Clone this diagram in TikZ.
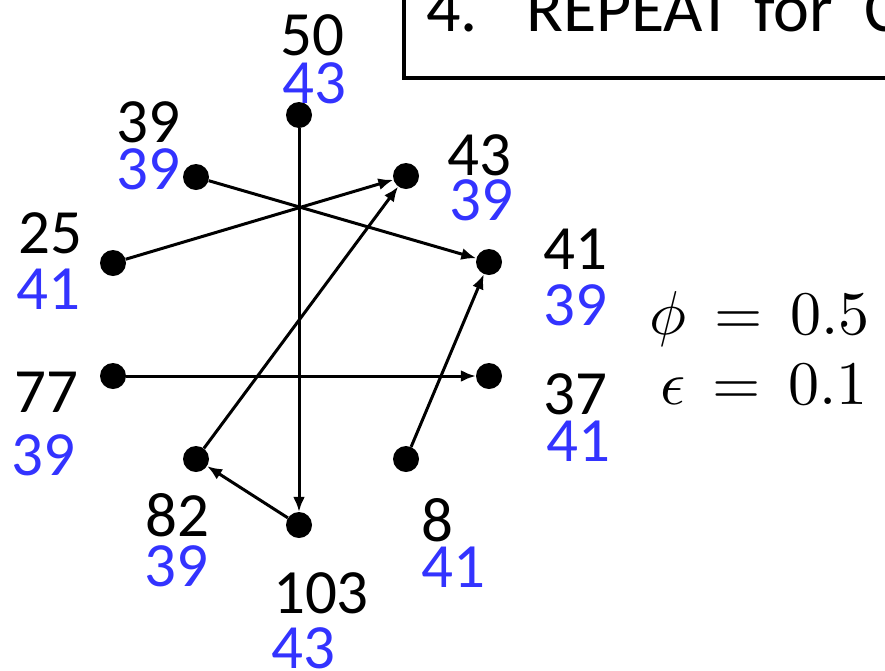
\documentclass[tikz,border=0pt]{standalone}
\usepackage{fontspec}
\usepackage{unicode-math}
\setmainfont{Carlito}
\setmathfont{latinmodern-math.otf}
\usepackage{tikz}
\usetikzlibrary{arrows.meta}

\definecolor{valblue}{RGB}{51,51,255}

\begin{document}
\begin{tikzpicture}[
    x=1pt, y=-1pt,
    font=\fontsize{63}{70}\selectfont,
    dot/.style={circle, fill=black, inner sep=0pt, minimum size=26pt},
    old/.style={inner sep=0pt, text=black},
    new/.style={inner sep=0pt, text=valblue},
    arrow/.style={-{Latex[length=15pt, width=12pt]}, line width=3pt},
    eq/.style={inner sep=0pt, anchor=base east, font=\fontsize{62}{68}\selectfont}
]
\useasboundingbox (0,0) rectangle (885,670);
\clip (0,0) rectangle (885,670);

% Step box (cut off at the top and right)
\draw[line width=3.5pt] (404,-40) rectangle (920,78);
\node[old, anchor=base west, font=\fontsize{68}{74}\selectfont] (stepnum) at (426,31) {4.};
\node[old, anchor=base west, font=\fontsize{68}{74}\selectfont] (steptxt) at (526,31) {REPEAT\hspace{8pt} for\hspace{16pt} C};

% Vertices
\node[dot] (n50)  at (299,115) {};
\node[dot] (n39)  at (196,177) {};
\node[dot] (n43)  at (406,176) {};
\node[dot] (n25)  at (113,263) {};
\node[dot] (n41)  at (489,262) {};
\node[dot] (n77)  at (113,376) {};
\node[dot] (n37)  at (489,376) {};
\node[dot] (n82)  at (196,459) {};
\node[dot] (n8)   at (406,459) {};
\node[dot] (n103) at (299,525) {};

% Labels: id (black) and value (blue)
\node[old] (l50)  at (312,35)  {50};
\node[new] (v50)  at (314,83)  {43};
\node[old] (l39)  at (148,122) {39};
\node[new] (v39)  at (148,169) {39};
\node[old] (l43)  at (479,155) {43};
\node[new] (v43)  at (481,200) {39};
\node[old] (l25)  at (50,233)  {25};
\node[new] (v25)  at (48,289)  {41};
\node[old] (l41)  at (575,249) {41};
\node[new] (v41)  at (575,305) {39};
\node[old] (l77)  at (46,392)  {77};
\node[new] (v77)  at (43,455)  {39};
\node[old] (l37)  at (575,394) {37};
\node[new] (v37)  at (578,441) {41};
\node[old] (l82)  at (177,515) {82};
\node[new] (v82)  at (176,566) {39};
\node[old] (l8)   at (437,520) {8};
\node[new] (v8)   at (453,567) {41};
\node[old] (l103) at (321,593) {103};
\node[new] (v103) at (303,648) {43};

% Edges
\draw[arrow] (n39) -- (n41);
\draw[arrow] (n25) -- (n43);
\draw[arrow] (n50) -- (n103);
\draw[arrow] (n82) -- (n43);
\draw[arrow] (n8) -- (n41);
\draw[arrow] (n77) -- (n37);
\draw[arrow] (n103) -- (n82);

% Parameters
\node[eq] (phi) at (870,334) {$\phi \mathrel{\,=\,} 0.5$};
\node[eq] (eps) at (868,404) {$\epsilon \mathrel{\,=\,} 0.1$};

\end{tikzpicture}
\end{document}
